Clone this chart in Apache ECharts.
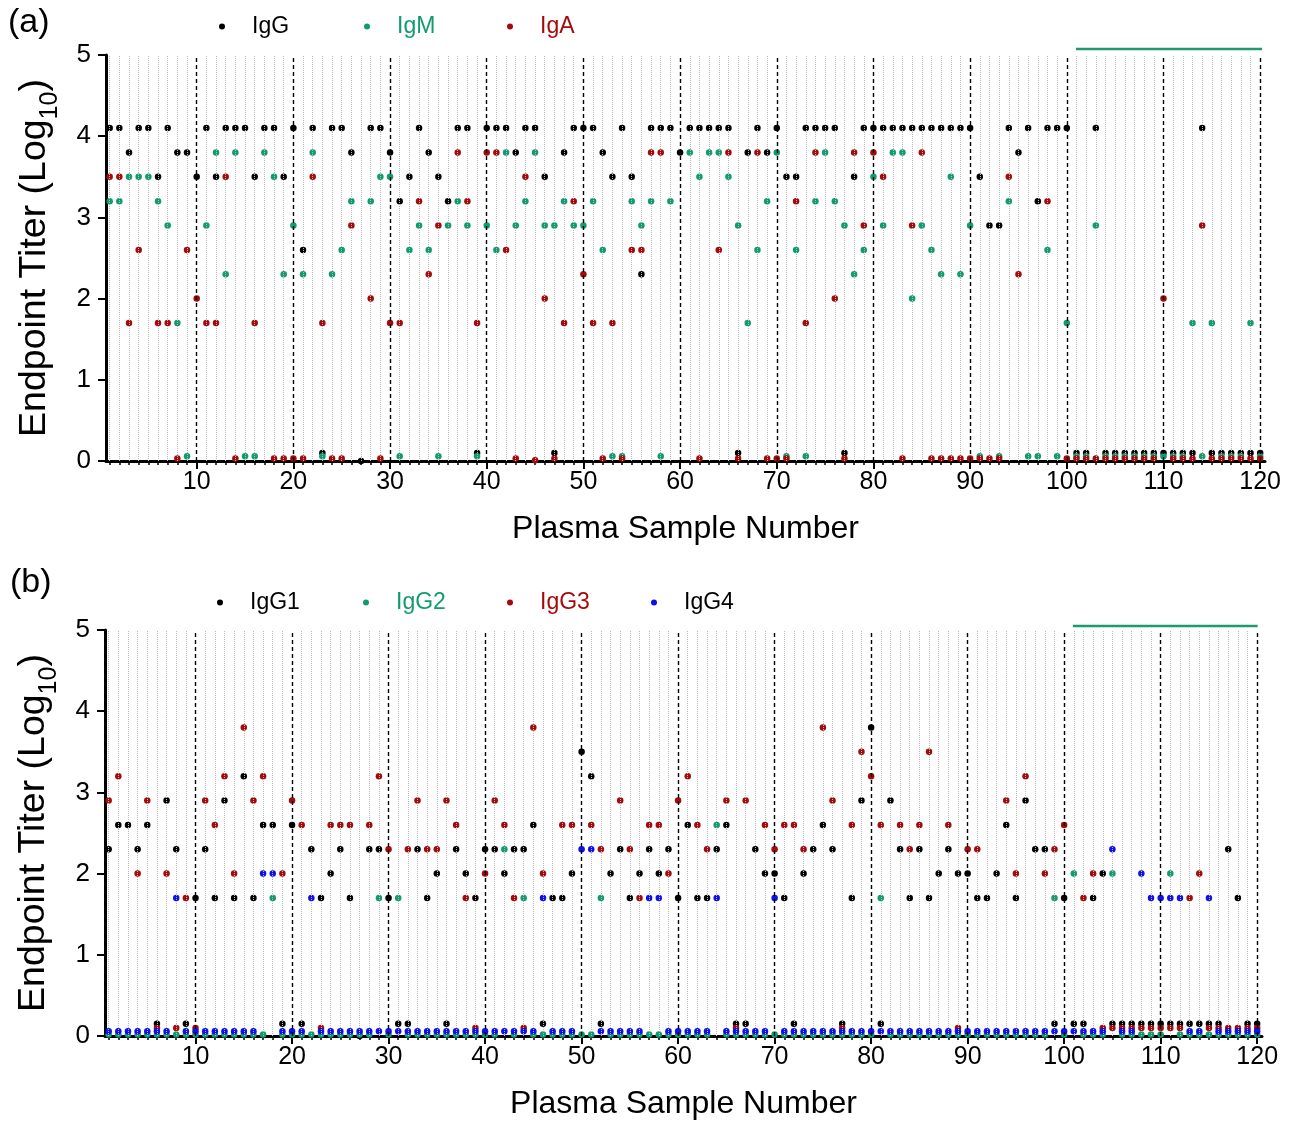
<!DOCTYPE html>
<html><head><meta charset="utf-8">
<script src="https://cdn.jsdelivr.net/npm/echarts@6/dist/echarts.min.js"></script>
<style>html,body{margin:0;padding:0;background:#fff}#c{width:1293px;height:1121px}</style>
</head><body><div id="c"></div>
<script>
// ---------- data ----------
const samples = Array.from({length: 120}, (_, i) => i + 1);
const xTickLabels = [10, 20, 30, 40, 50, 60, 70, 80, 90, 100, 110, 120];
const yTickLabels = [0, 1, 2, 3, 4, 5];

// Panel (a): IgG, IgM, IgA (log10 endpoint titers; near-zero = not detected)
const igG = [
  4.1,4.1,3.8,4.1,4.1,3.5,4.1,3.8,3.8,3.5,
  4.1,3.5,4.1,4.1,4.1,3.5,4.1,4.1,3.5,4.1,
  2.6,4.1,0.1,4.1,4.1,3.8,0,4.1,4.1,3.8,
  3.2,3.5,4.1,3.8,3.5,3.2,4.1,4.1,0.1,4.1,
  4.1,4.1,3.8,4.1,4.1,3.5,0.1,3.8,4.1,4.1,
  4.1,3.8,3.5,4.1,3.5,2.3,4.1,4.1,4.1,3.8,
  4.1,4.1,4.1,4.1,4.1,0.1,3.8,4.1,3.8,4.1,
  3.5,3.5,4.1,4.1,4.1,4.1,0.1,3.5,4.1,4.1,
  4.1,4.1,4.1,4.1,4.1,4.1,4.1,4.1,4.1,4.1,
  3.5,2.9,2.9,4.1,3.8,4.1,3.2,4.1,4.1,4.1,
  0.1,0.1,4.1,0.1,0.1,0.1,0.1,0.1,0.1,0.1,
  0.1,0.1,0.1,4.1,0.1,0.1,0.1,0.1,0.1,0.1
];
const igM = [
  3.2,3.2,3.5,3.5,3.5,3.2,2.9,1.7,0.06,null,
  2.9,3.8,2.3,3.8,0.06,0.06,3.8,3.5,2.3,2.9,
  2.3,3.8,0.06,2.3,2.6,3.2,null,3.2,3.5,3.5,
  0.06,2.6,2.9,2.6,0.06,2.9,3.2,2.9,0.06,2.9,
  2.6,3.8,2.9,3.2,3.8,2.9,2.9,3.2,2.9,2.9,
  3.2,2.6,0.06,0.06,3.2,2.9,3.2,0.06,3.2,null,
  3.8,3.5,3.8,3.8,3.5,2.9,1.7,2.6,3.2,3.8,
  0.06,2.6,0.06,3.2,3.8,3.2,2.9,2.3,2.6,3.5,
  2.9,3.8,3.8,2.0,2.9,2.6,2.3,3.5,2.3,2.9,
  0.06,null,0.06,3.2,null,0.06,0.06,2.6,0.06,1.7,
  0.06,0.06,2.9,0.06,0.06,0.06,0.06,0.06,0.06,0.06,
  0.06,0.06,1.7,0.06,1.7,0.06,0.06,0.06,1.7,0.06
];
const igA = [
  3.5,3.5,1.7,2.6,null,1.7,1.7,0.03,2.6,2.0,
  1.7,1.7,3.5,0.03,null,1.7,null,0.03,0.03,0.03,
  0.03,3.5,1.7,0.03,0.03,2.9,null,2.0,0.03,1.7,
  1.7,null,3.2,2.3,2.9,null,3.8,3.2,1.7,3.8,
  3.8,2.6,0.03,3.5,0.01,2.0,0.03,1.7,3.2,2.3,
  1.7,0.03,1.7,0.03,2.6,2.6,3.8,3.8,null,null,
  null,0.03,null,2.6,3.8,0.03,null,3.8,0.03,0.03,
  0.03,3.2,1.7,3.8,null,2.0,0.03,3.8,2.9,3.8,
  3.5,null,0.03,2.9,3.8,0.03,0.03,0.03,0.03,0.03,
  0.03,0.03,0.03,3.5,2.3,null,null,3.2,null,0.03,
  0.03,0.03,0.03,0.03,0.03,0.03,0.03,0.03,0.03,2.0,
  0.03,0.03,0.03,2.9,0.03,0.03,0.03,0.03,0.03,0.03
];

// Panel (b): IgG subclasses
const igG1 = [
  2.3,2.6,2.6,2.3,2.6,0.15,2.9,2.3,0.15,1.7,
  2.3,1.7,2.9,1.7,3.2,1.7,2.6,2.6,0.15,2.6,
  0.15,2.3,1.7,2.0,2.3,1.7,0,2.3,2.3,1.7,
  0.15,0.15,2.3,1.7,2.0,0.15,2.3,2.0,1.7,2.3,
  2.3,2.0,2.3,2.3,2.6,0.15,1.7,1.7,2.0,3.5,
  3.2,0.15,2.0,2.3,1.7,2.0,2.3,2.0,2.3,1.7,
  2.6,1.7,1.7,2.3,2.6,0.15,0.15,2.3,2.0,2.0,
  1.7,0.15,2.0,2.3,2.6,2.3,0.15,1.7,2.9,3.8,
  0.15,2.9,2.3,1.7,2.3,1.7,2.0,2.3,2.0,2.0,
  1.7,1.7,2.0,2.6,1.7,2.9,2.3,2.3,0.15,1.7,
  0.15,0.15,1.7,2.0,0.15,0.15,0.15,0.15,0.15,0.15,
  0.15,0.15,0.15,0.15,0.15,0.15,2.3,1.7,0.15,0.15
];
const igG2 = [
  0.02,0.02,0.02,0.02,0.02,0.02,0.02,0.02,0.02,0.02,
  0.02,0.02,0.02,0.02,0.02,0.02,0.02,1.7,0.02,0.02,
  0.02,0.02,0.02,0.02,0.02,0.02,0.02,0.02,1.7,0.02,
  1.7,0.02,0.02,0.02,0.02,0.02,0.02,0.02,0.02,0.02,
  0.02,2.3,0.02,1.7,0.02,0.02,0.02,0.02,0.02,0.02,
  0.02,1.7,0.02,0.02,0.02,0.02,0.02,0.02,0.02,0.02,
  0.02,0.02,0.02,2.6,0.02,0.02,0.02,0.02,0.02,0.02,
  0.02,0.02,0.02,0.02,0.02,0.02,0.02,0.02,0.02,0.02,
  1.7,0.02,0.02,0.02,0.02,0.02,0.02,0.02,0.02,0.02,
  0.02,0.02,0.02,0.02,0.02,0.02,0.02,0.02,1.7,0.02,
  2.0,0.02,0.02,0.02,2.0,0.02,0.02,0.02,0.02,0.02,
  2.0,0.02,0.02,0.02,0.02,0.02,0.02,0.02,0.02,0.02
];
const igG3 = [
  2.9,3.2,null,2.0,2.9,0.1,2.0,0.1,1.7,0.1,
  2.9,2.6,3.2,2.0,3.8,2.9,3.2,null,2.0,2.9,
  2.6,null,0.1,2.6,2.6,2.6,null,2.6,3.2,2.3,
  null,2.3,2.9,2.3,2.3,2.9,2.6,1.7,0.1,2.0,
  2.9,2.6,1.7,0.1,3.8,2.0,null,2.6,2.6,null,
  2.6,2.3,null,2.9,2.3,1.7,2.6,2.6,2.0,2.9,
  3.2,2.6,2.3,null,2.9,0.1,2.9,null,2.6,2.3,
  2.6,2.6,2.3,null,3.8,2.9,0.1,2.6,3.5,3.2,
  2.6,null,2.6,2.3,2.6,3.5,null,2.6,0.1,2.3,
  2.3,null,null,2.9,2.0,3.2,null,2.0,2.3,2.6,
  null,1.7,2.0,0.1,0.1,0.1,0.1,0.1,0.1,0.1,
  0.1,0.1,1.7,2.0,0.1,0.1,0.1,0.1,0.1,0.1
];
const igG4 = [
  0.06,0.06,0.06,0.06,0.06,0.06,0.06,1.7,0.06,0.06,
  0.06,0.06,0.06,0.06,0.06,0.06,2.0,2.0,0.06,0.06,
  0.06,1.7,0.06,0.06,0.06,0.06,0.06,0.06,0.06,0.06,
  0.06,0.06,0.06,0.06,0.06,0.06,0.06,0.06,0.06,0.06,
  0.06,0.06,0.06,0.06,0.06,1.7,0.06,0.06,0.06,2.3,
  2.3,0.06,0.06,0.06,0.06,0.06,1.7,1.7,0.06,0.06,
  0.06,0.06,0.06,1.7,0.06,0.06,0.06,0.06,0.06,1.7,
  0.06,0.06,0.06,0.06,0.06,0.06,0.06,0.06,0.06,0.06,
  0.06,0.06,0.06,0.06,0.06,0.06,0.06,0.06,0.06,0.06,
  0.06,0.06,0.06,0.06,0.06,0.06,0.06,0.06,0.06,0.06,
  0.06,0.06,0.06,0.06,2.3,0.06,0.06,2.0,1.7,1.7,
  1.7,1.7,0.06,0.06,1.7,0.06,0.06,0.06,0.06,0.06
];
// green bracket over samples 101-120 (x from, x to, y level) for each panel
const bracketA = [[100.95, 5.075], [120.2, 5.075]];
const bracketB = [[100.9, 5.05], [120.05, 5.05]];

// ---------- chart ----------
const FONT = '"Liberation Sans", Arial, Helvetica, sans-serif';
const C = {black: '#000000', green: '#119c6f', red: '#a50a0c', blue: '#1010ee'};

function pts(arr) {
  return samples.map((n, i) => [n, arr[i]]).filter(p => p[1] !== null);
}
const grids = [
  {left: 106, top: 55, width: 1159, height: 406},
  {left: 105, top: 630, width: 1157, height: 406}
];
const XMIN = 0.62, XMAX = 120.5;

const xAxes = [], yAxes = [];
[0, 1].forEach(g => {
  xAxes.push({
    gridIndex: g, type: 'value', position: 'bottom', min: XMIN, max: XMAX,
    axisLine: {show: true, onZero: false, lineStyle: {color: '#000', width: 3}},
    axisTick: {show: true, customValues: samples, length: 4, lineStyle: {color: '#000', width: 1.5}},
    axisLabel: {show: true, customValues: xTickLabels, fontSize: 25, color: '#000', margin: 9, fontFamily: FONT},
    splitLine: {show: false},
    name: 'Plasma Sample Number', nameLocation: 'middle', nameGap: 52,
    nameTextStyle: {fontSize: 32, color: '#000', fontFamily: FONT}
  });
  xAxes.push({
    gridIndex: g, type: 'value', position: 'bottom', min: XMIN, max: XMAX,
    axisLine: {show: false},
    axisTick: {show: true, customValues: xTickLabels, length: 8, lineStyle: {color: '#000', width: 2}},
    axisLabel: {show: false},
    splitLine: {show: false}
  });
  yAxes.push({
    gridIndex: g, type: 'value', min: 0, max: 5, interval: 1,
    axisLine: {show: true, onZero: false, lineStyle: {color: '#000', width: 3}},
    axisTick: {show: true, length: 8, lineStyle: {color: '#000', width: 2}},
    axisLabel: {fontSize: 26, color: '#000', margin: 15, fontFamily: FONT,
                formatter: v => yTickLabels.includes(v) ? String(v) : ''},
    splitLine: {show: false},
    name: '{a|Endpoint Titer (Log}{s|10}{a|)}', nameLocation: 'middle', nameGap: 48, nameRotate: 90,
    nameTextStyle: {color: '#000', fontFamily: FONT,
      rich: {a: {fontSize: 37.5, fontFamily: FONT, color: '#000', lineHeight: 42, verticalAlign: 'top'},
             s: {fontSize: 25, fontFamily: FONT, color: '#000', lineHeight: 25, verticalAlign: 'top', padding: [22, 0, 0, 0]}}}
  });
});

function gridLines(g) {
  const xi = g * 2;
  return [
    {type: 'scatter', xAxisIndex: xi, yAxisIndex: g, data: [], z: 1, silent: true,
     markLine: {silent: true, symbol: ['none', 'none'], label: {show: false}, animation: false,
       lineStyle: {color: '#b8b8b8', type: 'dotted', width: 1},
       data: samples.filter(n => n % 10 !== 0).map(n => ({xAxis: n}))}},
    {type: 'scatter', xAxisIndex: xi, yAxisIndex: g, data: [], z: 1, silent: true,
     markLine: {silent: true, symbol: ['none', 'none'], label: {show: false}, animation: false,
       lineStyle: {color: '#000', type: [4, 3], width: 1.4},
       data: xTickLabels.map(n => ({xAxis: n}))}}
  ];
}
function dots(name, arr, color, g) {
  return {name, type: 'scatter', xAxisIndex: g * 2, yAxisIndex: g, data: pts(arr),
          symbol: 'circle', symbolSize: 6.5, itemStyle: {color, opacity: 1}, z: 3, animation: false};
}
function bracket(d, g) {
  return {type: 'line', xAxisIndex: g * 2, yAxisIndex: g, data: d, symbol: 'none', clip: false,
          silent: true, lineStyle: {color: '#1f9a6e', width: 2.5}, z: 2, animation: false};
}

const series = [
  ...gridLines(0), ...gridLines(1),
  dots('IgG', igG, C.black, 0), dots('IgM', igM, C.green, 0), dots('IgA', igA, C.red, 0),
  dots('IgG1', igG1, C.black, 1), dots('IgG2', igG2, C.green, 1), dots('IgG3', igG3, C.red, 1), dots('IgG4', igG4, C.blue, 1),
  bracket(bracketA, 0), bracket(bracketB, 1)
];

function leg(name, left, top, textColor) {
  return {data: [{name, icon: 'circle'}], left, top, selectedMode: false,
          itemWidth: 6, itemHeight: 6,
          textStyle: {color: textColor, fontSize: 23, fontFamily: FONT, padding: [0, 0, 0, 22]}};
}

const option = {
  backgroundColor: '#fff',
  animation: false,
  grid: grids,
  xAxis: xAxes,
  yAxis: yAxes,
  legend: [
    leg('IgG', 214, 10, C.black), leg('IgM', 359, 10, C.green), leg('IgA', 502, 10, C.red),
    leg('IgG1', 212, 586, C.black), leg('IgG2', 358, 586, C.green), leg('IgG3', 502, 586, C.red), leg('IgG4', 646, 586, C.black)
  ],
  graphic: [
    {type: 'text', left: 8, top: 6, style: {text: '(a)', fontSize: 34, fill: '#000', fontFamily: FONT}},
    {type: 'text', left: 10, top: 566, style: {text: '(b)', fontSize: 34, fill: '#000', fontFamily: FONT}}
  ],
  series
};
const chart = echarts.init(document.getElementById('c'), null, {renderer: 'canvas'});
chart.setOption(option);
</script>
</body></html>
